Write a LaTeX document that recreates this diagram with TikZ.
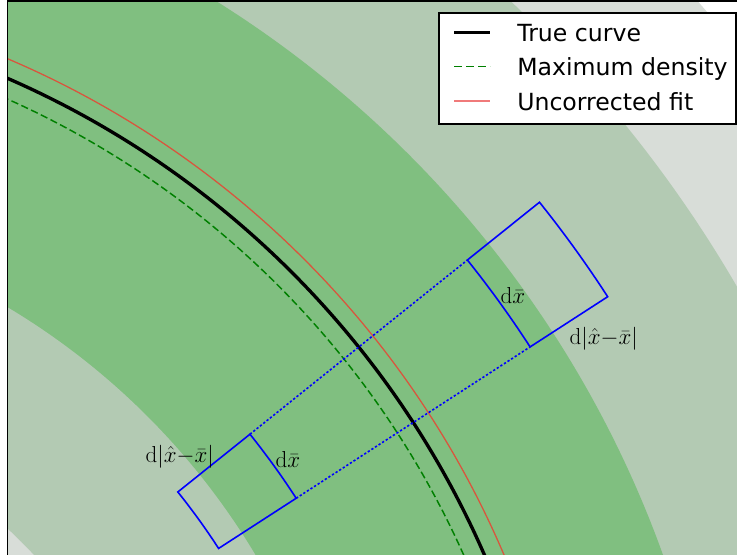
\documentclass[tikz,border=0pt]{standalone}
\usepackage{fontspec}
\newfontfamily\legfont{DejaVu Sans}
\definecolor{bandA}{HTML}{80BF80}
\definecolor{bandB}{HTML}{B3CAB3}
\definecolor{bandC}{HTML}{D8DDD8}
\definecolor{fitred}{HTML}{D9553D}
\definecolor{legred}{HTML}{F07A7A}
\definecolor{densgreen}{HTML}{008000}
\definecolor{boxblue}{HTML}{0000FF}
\begin{document}
\begin{tikzpicture}[x=0.75pt,y=0.75pt,
  truecurve/.style={black,line width=2.5pt},
  maxdens/.style={densgreen,line width=1.1pt,dash pattern=on 5.5pt off 2.6pt},
  fitline/.style={line width=0.95pt},
  boxline/.style={boxblue,line width=1.2pt,line join=miter},
  dotline/.style={boxblue,line width=1.2pt,dash pattern=on 1.7pt off 1.5pt},
  lbl/.style={inner sep=0pt,font=\fontsize{17.3}{20}\selectfont},
  legtext/.style={anchor=base west,inner sep=0pt,font=\legfont\fontsize{17.7}{20}\selectfont}
]
\useasboundingbox (0,0) rectangle (737,555);
\fill[white] (0,0) rectangle (737,555);
\coordinate (C) at (-359.3,-367.3);
\begin{scope}
  \clip (7.5,0) rectangle (737,553.5);
  \fill[bandC] (C) circle[radius=1402];
  \fill[bandB] (C) circle[radius=1267];
  \fill[bandA] (C) circle[radius=1086];
  \fill[bandB] (C) circle[radius=716];
  \fill[bandC] (C) circle[radius=538];
  \draw[maxdens] (C) circle[radius=901];
  \draw[fitline,fitred] (C) circle[radius=938];
  \draw[truecurve] (C) circle[radius=920];
  % boxes
  \coordinate (ua) at ([shift={(C)}]38.7:1059.3);
  \coordinate (ub) at ([shift={(C)}]38.7:1151.7);
  \coordinate (uc) at ([shift={(C)}]32.9:1151.7);
  \coordinate (ud) at ([shift={(C)}]32.9:1059.3);
  \coordinate (la) at ([shift={(C)}]38.7:780.7);
  \coordinate (lb) at ([shift={(C)}]38.7:688.3);
  \coordinate (lc) at ([shift={(C)}]32.9:688.3);
  \coordinate (ld) at ([shift={(C)}]32.9:780.7);
  \draw[dotline] (la) -- (ua);
  \draw[dotline] (ld) -- (ud);
  \draw[boxline] (ua) -- (ub) arc[start angle=38.7,end angle=32.9,radius=1151.7]
     -- (ud) arc[start angle=32.9,end angle=38.7,radius=1059.3] -- cycle;
  \draw[boxline] (la) -- (lb) arc[start angle=38.7,end angle=32.9,radius=688.3]
     -- (ld) arc[start angle=32.9,end angle=38.7,radius=780.7] -- cycle;
\end{scope}
% labels
\node[lbl] (udx) at (512.8,259.2) {$\mathrm{d}\bar{x}$};
\node[lbl] (udd) at (603.7,216.2) {$\mathrm{d}|\hat{x}{-}\bar{x}|$};
\node[lbl] (ldd) at (179.7,97.8) {$\mathrm{d}|\hat{x}{-}\bar{x}|$};
\node[lbl] (ldx) at (288,95) {$\mathrm{d}\bar{x}$};
% axes frame
\draw[line width=1.2pt] (7.5,0) -- (7.5,553.7) -- (737,553.7);
% legend
\draw[line width=1.1pt,fill=white] (438.8,542) rectangle (736,431);
\coordinate (k1a) at (454.3,522.7); \coordinate (k1b) at (490.3,522.7);
\coordinate (k2a) at (454.3,488.3); \coordinate (k2b) at (490.3,488.3);
\coordinate (k3a) at (454.3,454);   \coordinate (k3b) at (490.3,454);
\draw[truecurve] (k1a) -- (k1b);
\draw[maxdens,dash pattern=on 6pt off 3pt] (k2a) -- (k2b);
\draw[fitline,legred] (k3a) -- (k3b);
\node[legtext] (t1) at (517,513.3) {True curve};
\node[legtext] (t2) at (517,479.1) {Maximum density};
\node[legtext] (t3) at (517,444.9) {Uncorrected fit};
\end{tikzpicture}
\end{document}
